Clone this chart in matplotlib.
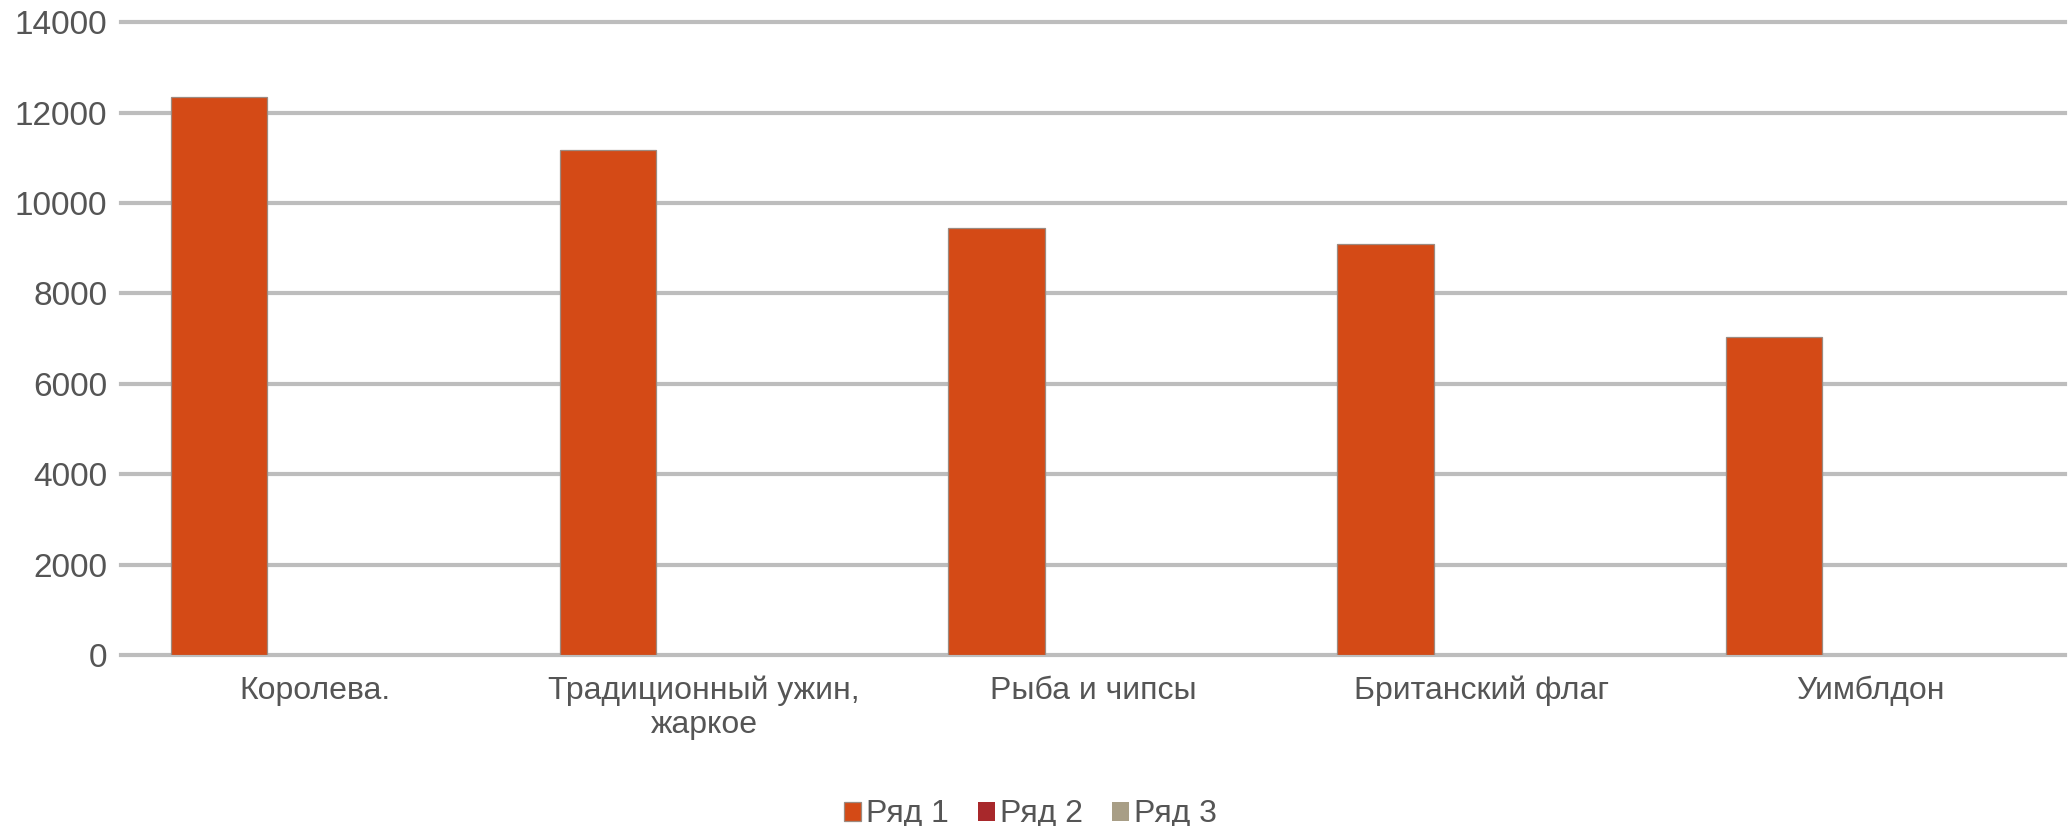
import numpy as np
import matplotlib.pyplot as plt

# Values
categories = ["Королева.", "Традиционный ужин,\nжаркое", "Рыба и чипсы",
              "Британский флаг", "Уимблдон"]
series_names = ["Ряд 1", "Ряд 2", "Ряд 3"]
row1 = [12340, 11165, 9445, 9090, 7045]
row2 = [0, 0, 0, 0, 0]
row3 = [0, 0, 0, 0, 0]
colors = ["#D44A16", "#A8282B", "#A89E86"]
yticks = [0, 2000, 4000, 6000, 8000, 10000, 12000, 14000]

plt.rcParams['font.family'] = ['Liberation Sans', 'DejaVu Sans']

fig = plt.figure(figsize=(20.69, 8.26), dpi=100)
ax = fig.add_axes([0.0585, 0.207, 0.9395, 0.766])

x = np.arange(len(categories))
w = 0.248
for i, vals in enumerate([row1, row2, row3]):
    ax.bar(x + (i - 1) * w, vals, width=w, color=colors[i],
           edgecolor="#9C8A80" if i == 0 else colors[i],
           linewidth=0.9 if i == 0 else 0, label=series_names[i], zorder=3)

ax.set_xlim(-0.5, len(categories) - 0.5)
ax.set_ylim(0, 14000)
ax.set_yticks(yticks)
ax.set_yticklabels([str(t) for t in yticks])
ax.set_xticks(x)
ax.set_xticklabels(categories, linespacing=1.15)

ax.yaxis.grid(True, color="#BDBDBD", linewidth=3, zorder=0)
for gl in ax.get_ygridlines():
    gl.set_clip_on(False)
ax.set_axisbelow(True)
for s in ax.spines.values():
    s.set_visible(False)
ax.tick_params(axis='y', length=0, labelsize=24, colors="#555555", pad=10)
ax.tick_params(axis='x', length=0, labelsize=23, colors="#555555", pad=15)

handles, labels = ax.get_legend_handles_labels()
fig.legend(handles, labels, loc='center', bbox_to_anchor=(0.498, 0.014),
           ncol=3, frameon=False, fontsize=23, labelcolor="#555555",
           handlelength=0.55, handleheight=0.55, handletextpad=0.15,
           columnspacing=0.9)

fig.savefig("out.png", dpi=100)
